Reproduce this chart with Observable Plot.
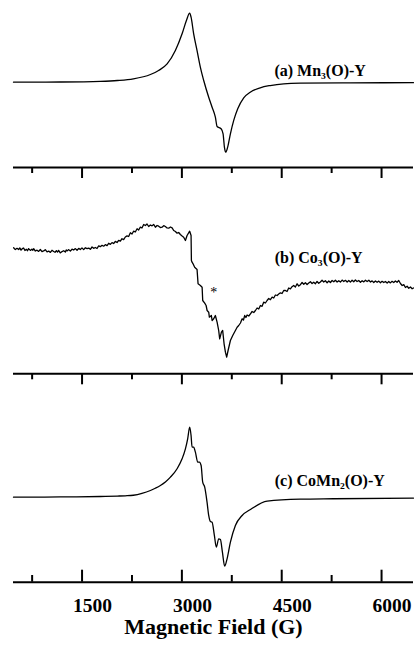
<!DOCTYPE html>
<html><head><meta charset="utf-8">
<script src="https://cdn.jsdelivr.net/npm/d3@7"></script>
<script src="https://cdn.jsdelivr.net/npm/@observablehq/plot@0.6"></script>
<style>
body{margin:0;background:#fff;}
#chart svg{display:block;}
</style></head><body><div id="chart"></div>
<script>
// ---- data (field in Gauss, intensity in arbitrary units) ----
const fieldA = [470,1174,1775,2031,2271,2527,2650,2778,2902,3003,3068,3117,3138,3177,3228,3278,3328,3403,3454,3503,3529,3589,3619,3639,3658,3688,3729,3779,3839,3929,4027,4177,4327,4530,4781,5532,6480];
const intensityA = [0,0.3,1.3,2.5,4.9,11.2,17,26.5,45.9,70.1,89.4,100,94.2,70.1,45.9,21.6,2.5,-21.7,-36.2,-50.7,-64.2,-67.5,-74.8,-94.1,-101.4,-94.1,-74.8,-55.4,-38.5,-22.6,-14.5,-8.1,-4.8,-2.3,-1.4,-0.9,-0.7];

const fieldB = [472,497,523,547,565,583,602,622,642,663,680,697,723,749,761,773,798,824,848,873,898,923,948,974,999,1024,1048,1073,1094,1114,1131,1148,1173,1199,1224,1249,1262,1275,1300,1324,1349,1374,1400,1425,1450,1474,1499,1524,1550,1575,1600,1625,1650,1674,1700,1725,1750,1775,1800,1825,1850,1876,1900,1925,1950,1975,2000,2026,2050,2076,2100,2125,2150,2176,2200,2226,2250,2276,2300,2327,2350,2376,2400,2426,2451,2476,2501,2527,2552,2577,2602,2627,2651,2677,2702,2727,2752,2777,2802,2828,2853,2877,2903,2928,2952,2977,3003,3027,3053,3078,3117,3138,3143,3153,3168,3192,3228,3243,3278,3304,3313,3343,3364,3379,3403,3413,3443,3454,3478,3503,3529,3553,3568,3594,3613,3634,3654,3673,3694,3729,3764,3804,3830,3854,3880,3905,3925,3944,3962,3980,4005,4030,4055,4080,4105,4130,4155,4180,4205,4229,4255,4280,4305,4330,4356,4380,4405,4431,4455,4480,4505,4530,4556,4580,4605,4631,4655,4680,4705,4731,4756,4781,4806,4831,4856,4881,4906,4931,4956,4981,5006,5031,5056,5081,5106,5131,5156,5182,5207,5232,5257,5282,5307,5332,5357,5382,5407,5432,5457,5483,5508,5532,5557,5582,5607,5632,5657,5683,5708,5733,5758,5784,5809,5834,5858,5883,5908,5933,5958,5983,6008,6033,6058,6084,6108,6133,6158,6183,6208,6233,6258,6284,6310,6334,6359,6384,6409,6434,6460,6480];
const intensityB = [32.7,30.9,32.2,31.0,32.6,30.4,31.8,32.5,30.0,31.2,29.8,31.9,30.1,31.4,30.2,31.8,29.5,30.3,29.1,31.0,28.9,29.6,30.8,28.7,29.4,28.1,30.2,29.0,28.2,29.9,28.4,30.1,27.6,28.9,29.8,28.5,30.6,29.6,30.9,29.4,31.3,30.5,31.9,30.2,32.1,31.0,32.6,30.9,32.8,31.9,32.4,31.2,33.5,32.2,33.0,32.0,34.6,33.8,35.2,34.3,35.9,34.9,37.2,36.1,37.9,37.0,39.1,38.0,40.2,39.3,41.8,40.9,43.5,44.6,44,47.7,46.5,49.3,48.5,51.7,50.5,53.3,52.5,56,55,56.5,54,55.5,54.7,56,53.3,55,54.3,53,53.3,54.8,54,52.6,52.3,53.5,52.7,50,49,47.3,48,46,44.5,43.3,40,45,49.3,45,20,18.3,16.7,13.3,11,-3.3,-5,-6.7,-20,-22.7,-25,-30,-31.7,-36.7,-35,-40,-38.3,-35,-41.7,-50,-58.3,-51.7,-50,-63.3,-71.7,-76.7,-70,-60,-55,-50,-46.7,-45,-42.5,-38.3,-39.5,-35,-37,-34.5,-35.5,-33.3,-31,-32,-30,-27.5,-28.5,-25,-25.8,-21.7,-22.5,-20,-18,-19.2,-16.7,-17.5,-14.5,-15,-13.5,-12.3,-13,-10,-10,-11,-7.5,-8.3,-6.2,-5,-6.5,-3.3,-5.5,-4.2,-2,-3.8,-2.2,-4,-2.5,-1.2,-3,-1.7,-3.2,-1,-2.8,-1.5,0.2,-1.5,-0.3,-2.2,-0.5,-2,0,-1.3,0.3,-1.5,-0.2,-1.6,0.4,-1,0.2,-1.5,0,-1.6,0.3,-1.2,0.5,-1,0,-1.7,-0.2,-1.4,0.3,-1.1,0.2,-1.5,-0.4,-2,-0.5,-1.8,-0.6,-2.2,-0.8,-2,-1,-2.6,-1,-2.4,-0.8,-2,-0.5,-1.8,0,-3,-5,-4.2,-7,-5.8,-7.7,-6.5,-8.3,-7.5];

const fieldC = [470,1174,1775,2031,2150,2271,2400,2527,2600,2677,2752,2828,2928,3003,3053,3087,3117,3138,3153,3177,3203,3238,3263,3289,3313,3343,3378,3403,3428,3454,3488,3518,3553,3579,3609,3643,3679,3729,3804,3905,4030,4281,4781,5277,6480];
const intensityC = [0,0.3,1,1.6,2.0,2.8,5.5,9.7,13,17,22,29,41.2,55.6,70.1,84.6,101.4,89.4,72.5,72.5,65.2,50.7,50.7,45.9,21.7,14.5,-7.2,-26.5,-35.2,-36.2,-55.5,-72.5,-60.3,-61.3,-79.7,-100,-89.3,-65.2,-41,-26.5,-17.8,-5.8,-2.9,-2.3,-1.4];

const majorTicks = [1500, 3000, 4500, 6000];
const minorTicks = [750, 2250, 3750, 5250];
const panelLabels = ["(a) Mn₃(O)-Y", "(b) Co₃(O)-Y", "(c) CoMn₂(O)-Y"];
const labelField = [4390, 4395, 4395];
const labelIntensity = [17, 22.8, 24.2];
const starText = ["*"];
const starField = [3478];
const starIntensity = [-12.5];
const axisTitle = ["Magnetic Field (G)"];

// ---- drawing ----
const W = 414, ML = 13, MR = 1;
const xDomain = [470, 6480];
const fontFamily = "'Liberation Serif', 'Times New Roman', Times, serif";

function rows(f, v) { return f.map((d, i) => ({G: d, I: v[i]})); }

function panel({field, intensity, height, marginBottom, yDomain, curve, li, bottom, extra = []}) {
  const frameH = height - marginBottom;
  const marks = [
    Plot.line(rows(field, intensity), {x: "G", y: "I", stroke: "black", strokeWidth: 1.3, curve}),
    Plot.ruleY([yDomain[0]], {stroke: "black", strokeWidth: 2}),
    Plot.text([{G: labelField[li], I: labelIntensity[li], t: panelLabels[li]}],
      {x: "G", y: "I", text: "t", textAnchor: "start", fontSize: 16, fontWeight: "bold", fill: "black"}),
    ...extra
  ];
  if (!bottom) {
    marks.push(Plot.axisX(majorTicks, {tickSize: 11, strokeWidth: 2, tickFormat: () => "", label: null}));
    marks.push(Plot.axisX(minorTicks, {tickSize: 6, strokeWidth: 2, tickFormat: () => "", label: null}));
  } else {
    marks.push(Plot.ruleX(majorTicks, {stroke: "black", strokeWidth: 2, insetTop: frameH - 12}));
    marks.push(Plot.ruleX(minorTicks, {stroke: "black", strokeWidth: 2, insetTop: frameH - 6.7}));
    marks.push(Plot.axisX(majorTicks, {tickSize: 0, tickPadding: 15.8, dx: 10.5, fontSize: 19.5, fontWeight: "bold", tickFormat: d3.format("d"), label: null, fill: "black"}));
    marks.push(Plot.text(axisTitle, {text: d => d, frameAnchor: "bottom", dy: 52, fontSize: 22, fontWeight: "bold", fill: "black"}));
  }
  return Plot.plot({
    width: W, height, marginLeft: ML, marginRight: MR, marginTop: 0, marginBottom,
    x: {domain: xDomain, label: null},
    y: {domain: yDomain, axis: null},
    style: {fontFamily, background: "white", color: "black", overflow: "visible"},
    marks
  });
}

const el = document.getElementById("chart");
el.append(panel({field: fieldA, intensity: intensityA, height: 190, marginBottom: 23, yDomain: [-123.6, 118.4], curve: "monotone-x", li: 0, bottom: false}));
el.append(panel({field: fieldB, intensity: intensityB, height: 210, marginBottom: 26.7, yDomain: [-93.3, 90], curve: "linear", li: 1, bottom: false,
  extra: [Plot.text(starText, {x: () => starField[0], y: () => starIntensity[0], text: d => d, fontSize: 14, fontWeight: "normal", fill: "black"})]}));
el.append(panel({field: fieldC, intensity: intensityC, height: 250, marginBottom: 68.3, yDomain: [-123.2, 140.1], curve: "monotone-x", li: 2, bottom: true}));
</script></body></html>
